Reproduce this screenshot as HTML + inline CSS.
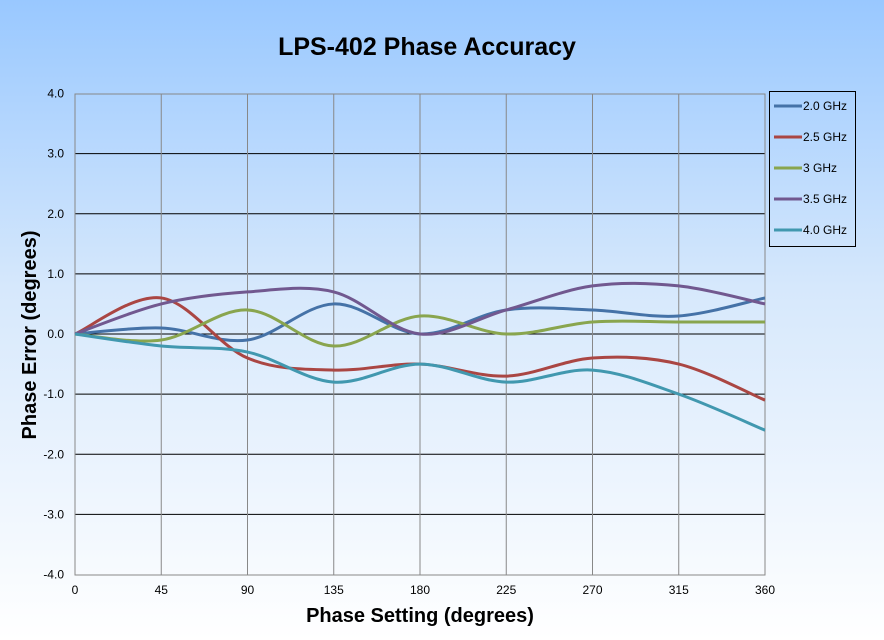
<!DOCTYPE html>
<html><head><meta charset="utf-8"><style>
html,body{margin:0;padding:0;width:884px;height:640px;overflow:hidden}
body{background:linear-gradient(to bottom,#99c8ff 0%,#d6e8fc 45%,#ffffff 100%);font-family:"Liberation Sans",sans-serif}
</style></head><body>
<svg id="s" width="884" height="640" xmlns="http://www.w3.org/2000/svg" font-family="Liberation Sans, sans-serif">
<text x="427" y="55" text-anchor="middle" font-size="25" font-weight="bold">LPS-402 Phase Accuracy</text>
<g id="grid"></g>
<rect x="75" y="94" width="690" height="481" fill="none" stroke="#888" stroke-width="1"/>
<g id="lab" font-size="12"></g>
<g id="ser" fill="none" stroke-width="3"></g>
<text x="420" y="622" text-anchor="middle" font-size="20" font-weight="bold">Phase Setting (degrees)</text>
<text transform="translate(36,335) rotate(-90)" text-anchor="middle" font-size="20" font-weight="bold">Phase Error (degrees)</text>
<rect x="769.5" y="91.5" width="86" height="155" fill="none" stroke="#000"/>
<g id="leg" font-size="12"></g>
</svg>
<script>
var NS="http://www.w3.org/2000/svg";
function el(p,t,a,txt){var e=document.createElementNS(NS,t);for(var k in a)e.setAttribute(k,a[k]);if(txt!=null)e.textContent=txt;document.getElementById(p).appendChild(e);}
function X(d){return 75+d/360*690}
function Y(v){return 334-v*60.125}
for(var v=-4;v<=4;v++){var y=Y(v);if(v>-4&&v<4)el("grid","line",{x1:75,x2:765,y1:y,y2:y,stroke:"#000"});
el("lab","text",{x:64,y:y+4,"text-anchor":"end"},v.toFixed(1));}
for(var d=0;d<=360;d+=45){var x=X(d);if(d>0&&d<360)el("grid","line",{x1:x,x2:x,y1:94,y2:575,stroke:"#888"});
el("lab","text",{x:x,y:594,"text-anchor":"middle"},d);}
var S=[["2.0 GHz","#4572a7",[0,0.1,-0.1,0.5,0,0.4,0.4,0.3,0.6]],
["2.5 GHz","#aa4643",[0,0.6,-0.4,-0.6,-0.5,-0.7,-0.4,-0.5,-1.1]],
["3 GHz","#89a54e",[0,-0.1,0.4,-0.2,0.3,0,0.2,0.2,0.2]],
["3.5 GHz","#71588f",[0,0.5,0.7,0.7,0,0.4,0.8,0.8,0.5]],
["4.0 GHz","#4198af",[0,-0.2,-0.3,-0.8,-0.5,-0.8,-0.6,-1.0,-1.6]]];
S.forEach(function(s,i){var p=s[2].map(function(v,j){return [X(j*45),Y(v)]});
var d="M"+p[0][0]+","+p[0][1];
for(var j=0;j<p.length-1;j++){var p0=p[Math.max(j-1,0)],p1=p[j],p2=p[j+1],p3=p[Math.min(j+2,p.length-1)],t=1/6;
d+=" C"+(p1[0]+(p2[0]-p0[0])*t)+","+(p1[1]+(p2[1]-p0[1])*t)+" "+(p2[0]-(p3[0]-p1[0])*t)+","+(p2[1]-(p3[1]-p1[1])*t)+" "+p2[0]+","+p2[1];}
el("ser","path",{d:d,stroke:s[1]});
var ly=106+i*31;
el("leg","line",{x1:774,x2:802,y1:ly,y2:ly,stroke:s[1],"stroke-width":3});
el("leg","text",{x:803,y:ly+4},s[0]);});
</script>
</body></html>
